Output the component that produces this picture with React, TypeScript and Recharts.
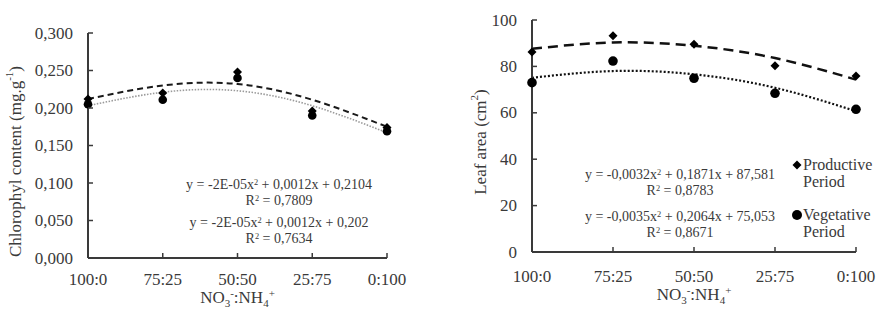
import React from "react";
import { ComposedChart, Line, XAxis, YAxis, Label } from "recharts";

const RATIOS = ["100:0", "75:25", "50:50", "25:75", "0:100"];

// chlorophyll (mg.g-1)
const CHL_PRODUCTIVE = [0.212, 0.22, 0.248, 0.196, 0.174];
const CHL_VEGETATIVE = [0.205, 0.211, 0.24, 0.19, 0.169];
const CHL_TREND_PRODUCTIVE = [0.212, 0.23, 0.232, 0.211, 0.175];
const CHL_TREND_VEGETATIVE = [0.203, 0.221, 0.223, 0.203, 0.167];
const CHL_TICKS = [0, 0.05, 0.1, 0.15, 0.2, 0.25, 0.3];

// leaf area (cm2)
const LEAF_PRODUCTIVE = [86.2, 93.2, 89.5, 80.3, 75.9];
const LEAF_VEGETATIVE = [73.0, 82.3, 74.9, 68.4, 61.5];
const LEAF_TREND_PRODUCTIVE = [87.6, 90.3, 88.9, 83.6, 74.3];
const LEAF_TREND_VEGETATIVE = [75.1, 78.0, 76.6, 70.8, 60.7];
const LEAF_TICKS = [0, 20, 40, 60, 80, 100];

const FONT = "Liberation Serif, Times New Roman, serif";
const INK = "#3a3a3a";

const chlData = RATIOS.map((ratio, i) => ({
  ratio,
  productive: CHL_PRODUCTIVE[i],
  vegetative: CHL_VEGETATIVE[i],
  trendP: CHL_TREND_PRODUCTIVE[i],
  trendV: CHL_TREND_VEGETATIVE[i],
}));

const leafData = RATIOS.map((ratio, i) => ({
  ratio,
  productive: LEAF_PRODUCTIVE[i],
  vegetative: LEAF_VEGETATIVE[i],
  trendP: LEAF_TREND_PRODUCTIVE[i],
  trendV: LEAF_TREND_VEGETATIVE[i],
}));

const txt: React.CSSProperties = { fontFamily: FONT };

const diamond = (r: number) => (props: any) => {
  const { cx, cy, key } = props;
  if (cx == null || cy == null) return <g key={key} />;
  return (
    <path
      key={key}
      d={`M${cx},${cy - r} L${cx + r},${cy} L${cx},${cy + r} L${cx - r},${cy} Z`}
      fill="#000"
    />
  );
};

const circle = (r: number) => (props: any) => {
  const { cx, cy, key } = props;
  if (cx == null || cy == null) return <g key={key} />;
  return <circle key={key} cx={cx} cy={cy} r={r} fill="#000" />;
};

const xTick = (labelDy: number) => (props: any) => {
  const { x, y, payload } = props;
  return (
    <g>
      <line x1={x} y1={y} x2={x} y2={y - 5} stroke={INK} strokeWidth={1.5} />
      <text x={x} y={y + labelDy} textAnchor="middle" style={txt} fontSize={17} fill={INK}>
        {payload.value}
      </text>
    </g>
  );
};

const yTick = (fmt: (v: number) => string) => (props: any) => {
  const { x, y, payload } = props;
  return (
    <g>
      <line x1={x} y1={y} x2={x + 5} y2={y} stroke={INK} strokeWidth={1.5} />
      <text x={x - 15} y={y + 5.6} textAnchor="end" style={txt} fontSize={17} fill={INK}>
        {fmt(payload.value)}
      </text>
    </g>
  );
};

const xTitle = (dy: number) => (props: any) => {
  const vb = props.viewBox;
  const cx = vb.x + vb.width / 2;
  const cy = vb.y + dy;
  return (
    <text x={cx} y={cy} textAnchor="middle" style={txt} fontSize={17} fill={INK}>
      NO
      <tspan fontSize={11} dy={4}>3</tspan>
      <tspan fontSize={11} dy={-10}>-</tspan>
      <tspan dy={6}>:NH</tspan>
      <tspan fontSize={11} dy={4}>4</tspan>
      <tspan fontSize={11} dy={-10}>+</tspan>
    </text>
  );
};

const yTitle = (cxOff: number, cyOff: number, text: string, sup: string) => (props: any) => {
  const vb = props.viewBox;
  const cx = vb.x + cxOff;
  const cy = vb.y + vb.height / 2 + cyOff;
  return (
    <text
      x={cx}
      y={cy}
      transform={`rotate(-90, ${cx}, ${cy})`}
      textAnchor="middle"
      dominantBaseline="central"
      style={txt}
      fontSize={17}
      fill={INK}
    >
      {text}
      <tspan fontSize={11} dy={-6}>{sup}</tspan>
      <tspan dy={6}>)</tspan>
    </text>
  );
};

const fmtChl = (v: number) => v.toFixed(3).replace(".", ",");
const fmtLeaf = (v: number) => String(v);

const eqStyle: React.CSSProperties = {
  position: "absolute",
  width: 300,
  textAlign: "center",
  fontFamily: FONT,
  fontSize: 14,
  lineHeight: "16px",
  color: INK,
  whiteSpace: "nowrap",
};

const supStyle: React.CSSProperties = { fontSize: "0.6em", lineHeight: 0, verticalAlign: "0.5em" };

function Equation({ cx, top, coefs, r2 }: { cx: number; top: number; coefs: [string, string, string]; r2: string }) {
  return (
    <div style={{ ...eqStyle, left: cx - 150, top }}>
      <div>
        y = {coefs[0]}x<span style={supStyle}>2</span> + {coefs[1]}x + {coefs[2]}
      </div>
      <div>
        R<span style={supStyle}>2</span> = {r2}
      </div>
    </div>
  );
}

function LegendItem({ left, top, shape, label }: { left: number; top: number; shape: "diamond" | "circle"; label: string }) {
  return (
    <div style={{ position: "absolute", left, top, fontFamily: FONT, fontSize: 16, lineHeight: "17px", color: INK }}>
      <svg width={12} height={12} style={{ position: "absolute", left: -12, top: 3 }}>
        {shape === "diamond" ? (
          <path d="M6,1.5 L10.5,6 L6,10.5 L1.5,6 Z" fill="#000" />
        ) : (
          <circle cx={6} cy={6} r={5} fill="#000" />
        )}
      </svg>
      <div>{label}</div>
      <div>Period</div>
    </div>
  );
}

export default function App() {
  return (
    <div style={{ position: "absolute", left: 0, top: 0, width: 889, height: 312, background: "#fff", fontFamily: FONT }}>
      <div style={{ position: "absolute", left: 0, top: 0 }}>
        <ComposedChart width={445} height={312} data={chlData} margin={{ top: 33, right: 58, bottom: 24, left: 0 }}>
          <XAxis
            dataKey="ratio"
            scale="point"
            padding={{ left: 0, right: 0 }}
            height={30}
            tickSize={0}
            tickMargin={0}
            tickLine={false}
            axisLine={{ stroke: INK, strokeWidth: 2 }}
            tick={xTick(26.5)}
            interval={0}
          >
            <Label content={xTitle(45)} />
          </XAxis>
          <YAxis
            width={88}
            domain={[0, 0.3]}
            ticks={CHL_TICKS}
            tickSize={0}
            tickMargin={0}
            tickLine={false}
            axisLine={{ stroke: INK, strokeWidth: 2 }}
            tick={yTick(fmtChl)}
            interval={0}
          >
            <Label content={yTitle(15, 16, "Chlorophyl content (mg.g", "-1")} />
          </YAxis>
          <Line dataKey="trendV" type="natural" stroke="#9a9a9a" strokeWidth={1.6} strokeDasharray="1.5 1.5" dot={false} activeDot={false} isAnimationActive={false} />
          <Line dataKey="trendP" type="natural" stroke="#1a1a1a" strokeWidth={2} strokeDasharray="6 4" dot={false} activeDot={false} isAnimationActive={false} />
          <Line dataKey="vegetative" stroke="none" dot={circle(4.3)} activeDot={false} isAnimationActive={false} />
          <Line dataKey="productive" stroke="none" dot={diamond(4.5)} activeDot={false} isAnimationActive={false} />
        </ComposedChart>
      </div>
      <div style={{ position: "absolute", left: 445, top: 0 }}>
        <ComposedChart width={444} height={312} data={leafData} margin={{ top: 20, right: 33, bottom: 30, left: 0 }}>
          <XAxis
            dataKey="ratio"
            scale="point"
            padding={{ left: 0, right: 0 }}
            height={30}
            tickSize={0}
            tickMargin={0}
            tickLine={false}
            axisLine={{ stroke: INK, strokeWidth: 2 }}
            tick={xTick(29.5)}
            interval={0}
          >
            <Label content={xTitle(48)} />
          </XAxis>
          <YAxis
            width={87}
            domain={[0, 100]}
            ticks={LEAF_TICKS}
            tickSize={0}
            tickMargin={0}
            tickLine={false}
            axisLine={{ stroke: INK, strokeWidth: 2 }}
            tick={yTick(fmtLeaf)}
            interval={0}
          >
            <Label content={yTitle(35, 6, "Leaf area (cm", "2")} />
          </YAxis>
          <Line dataKey="trendV" type="natural" stroke="#111" strokeWidth={2.2} strokeDasharray="2 2" dot={false} activeDot={false} isAnimationActive={false} />
          <Line dataKey="trendP" type="natural" stroke="#111" strokeWidth={2.5} strokeDasharray="10 6" dot={false} activeDot={false} isAnimationActive={false} />
          <Line dataKey="vegetative" stroke="none" dot={circle(4.8)} activeDot={false} isAnimationActive={false} />
          <Line dataKey="productive" stroke="none" dot={diamond(4.5)} activeDot={false} isAnimationActive={false} />
        </ComposedChart>
      </div>

      <Equation cx={279} top={177} coefs={["-2E-05", "0,0012", "0,2104"]} r2="0,7809" />
      <Equation cx={279} top={215} coefs={["-2E-05", "0,0012", "0,202"]} r2="0,7634" />
      <Equation cx={680} top={167} coefs={["-0,0032", "0,1871", "87,581"]} r2="0,8783" />
      <Equation cx={680} top={209} coefs={["-0,0035", "0,2064", "75,053"]} r2="0,8671" />

      <LegendItem left={803} top={156} shape="diamond" label="Productive" />
      <LegendItem left={803} top={206} shape="circle" label="Vegetative" />
    </div>
  );
}
